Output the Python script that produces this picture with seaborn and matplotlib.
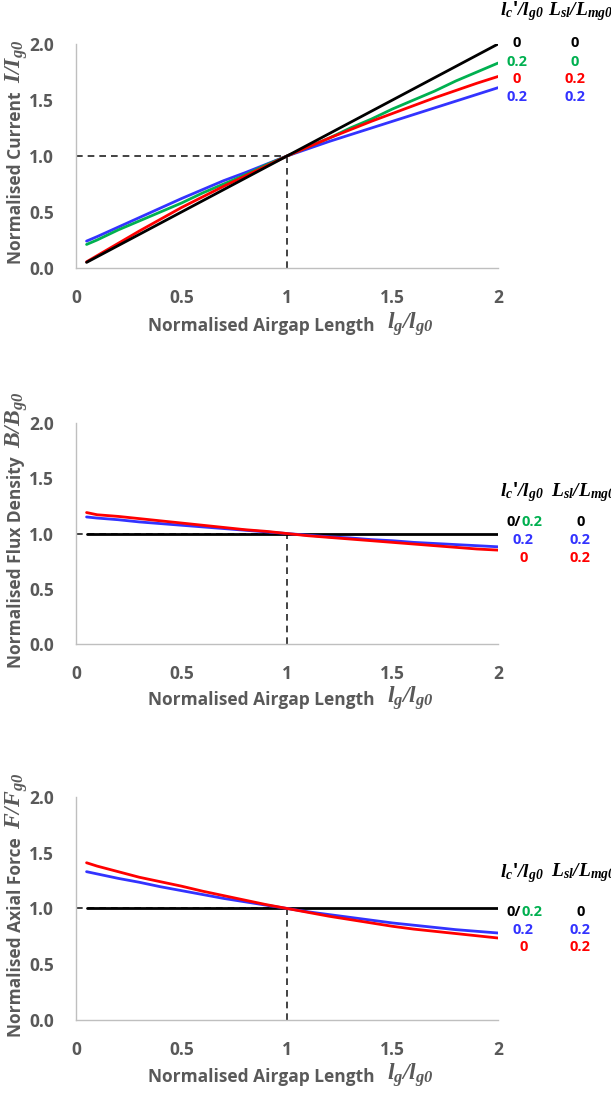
import pandas as pd
import matplotlib.pyplot as plt
import seaborn as sns

# airgap positions (normalised)
lg = [0.05, 0.1, 0.2, 0.3, 0.4, 0.5, 0.6, 0.7, 0.8, 0.9, 1.0,
      1.1, 1.2, 1.3, 1.4, 1.5, 1.6, 1.7, 1.8, 1.9, 2.0]

# normalised current
cur_black = [0.05, 0.1, 0.2, 0.3, 0.4, 0.5, 0.6, 0.7, 0.8, 0.9, 1.0,
             1.1, 1.2, 1.3, 1.4, 1.5, 1.6, 1.7, 1.8, 1.9, 2.0]
cur_green = [0.21, 0.25, 0.34, 0.42, 0.50, 0.58, 0.67, 0.75, 0.83, 0.92, 1.0,
             1.08, 1.16, 1.25, 1.33, 1.42, 1.50, 1.58, 1.67, 1.75, 1.83]
cur_red = [0.055, 0.11, 0.22, 0.33, 0.435, 0.54, 0.635, 0.73, 0.82, 0.91, 1.0,
           1.08, 1.16, 1.235, 1.31, 1.38, 1.45, 1.52, 1.585, 1.65, 1.71]
cur_blue = [0.24, 0.28, 0.365, 0.45, 0.535, 0.62, 0.70, 0.78, 0.85, 0.925, 1.0,
            1.065, 1.13, 1.19, 1.25, 1.31, 1.37, 1.43, 1.49, 1.55, 1.61]

# normalised flux density
flux_black = [1.0] * 21
flux_red = [1.19, 1.17, 1.155, 1.135, 1.115, 1.095, 1.075, 1.055, 1.035, 1.02, 1.0,
            0.98, 0.965, 0.95, 0.935, 0.92, 0.905, 0.89, 0.875, 0.86, 0.85]
flux_blue = [1.15, 1.14, 1.125, 1.105, 1.09, 1.075, 1.06, 1.045, 1.03, 1.015, 1.0,
             0.985, 0.97, 0.96, 0.945, 0.935, 0.92, 0.91, 0.9, 0.89, 0.88]

# normalised axial force
force_black = [1.0] * 21
force_red = [1.41, 1.38, 1.33, 1.28, 1.24, 1.20, 1.155, 1.115, 1.075, 1.035, 1.0,
             0.965, 0.93, 0.9, 0.87, 0.84, 0.815, 0.795, 0.775, 0.755, 0.735]
force_blue = [1.33, 1.31, 1.27, 1.235, 1.195, 1.16, 1.125, 1.09, 1.06, 1.03, 1.0,
              0.97, 0.945, 0.92, 0.895, 0.87, 0.85, 0.83, 0.81, 0.795, 0.78]

GRAY = "#595959"
COLS = {"black": "#000000", "green": "#00B050", "red": "#FF0000", "blue": "#3333FF"}

sns.set_style("white")
plt.rcParams["font.family"] = ["Open Sans", "DejaVu Sans"]
plt.rcParams["mathtext.fontset"] = "custom"
plt.rcParams["mathtext.rm"] = "Liberation Serif:bold:italic"
plt.rcParams["mathtext.it"] = "Liberation Serif:bold:italic"
plt.rcParams["mathtext.bf"] = "Liberation Serif:bold:italic"

W, H = 611, 1106
fig = plt.figure(figsize=(W / 100, H / 100), dpi=100)
boxes = [
    [0.1244, 0.7577, 0.6907, 0.2025],
    [0.1244, 0.4177, 0.6907, 0.1998],
    [0.1244, 0.0778, 0.6907, 0.2016],
]

panels = [
    ("Normalised Current", r"$I/I_{g0}$",
     [("blue", cur_blue), ("green", cur_green), ("red", cur_red), ("black", cur_black)]),
    ("Normalised Flux Density", r"$B/B_{g0}$",
     [("black", flux_black), ("blue", flux_blue), ("red", flux_red)]),
    ("Normalised Axial Force", r"$F/F_{g0}$",
     [("black", force_black), ("blue", force_blue), ("red", force_red)]),
]
xlabel_y = [326, 700, 1077]

axes = []
for box, (ylab, ymath, series) in zip(boxes, panels):
    ax = fig.add_axes(box)
    axes.append(ax)
    # reference dashed guides
    ax.plot([0, 1], [1, 1], ls=(0, (4, 3)), color="#222222", lw=1.2)
    ax.plot([1, 1], [0, 1], ls=(0, (4, 3)), color="#222222", lw=1.2)
    rows = []
    for name, vals in series:
        for x, y in zip(lg, vals):
            rows.append({"lg": x, "val": y, "curve": name})
    df = pd.DataFrame(rows)
    sns.lineplot(data=df, x="lg", y="val", hue="curve",
                 hue_order=[s[0] for s in series],
                 palette=COLS, linewidth=2.0, legend=False, ax=ax,
                 estimator=None, sort=False)
    ax.set_xlim(0, 2)
    ax.set_ylim(0, 2)
    ax.set_xticks([0, 0.5, 1, 1.5, 2])
    ax.set_xticklabels(["0", "0.5", "1", "1.5", "2"])
    ax.set_yticks([0, 0.5, 1, 1.5, 2])
    ax.set_yticklabels(["0.0", "0.5", "1.0", "1.5", "2.0"])
    ax.tick_params(axis="x", length=0, labelsize=12.5, labelcolor=GRAY, pad=15)
    ax.tick_params(axis="y", length=0, labelsize=12.5, labelcolor=GRAY, pad=16)
    for lab in ax.get_xticklabels() + ax.get_yticklabels():
        lab.set_fontweight("bold")
    ax.set_xlabel("")
    ax.set_ylabel("")
    for side in ["top", "right"]:
        ax.spines[side].set_visible(False)
    for side in ["left", "bottom"]:
        ax.spines[side].set_color("#BFBFBF")
        ax.spines[side].set_linewidth(1.0)

# axis labels: sans text followed by larger serif math part
fig.canvas.draw()
rend = fig.canvas.get_renderer()
for ax, box, (ylab, ymath, _), xy in zip(axes, boxes, panels, xlabel_y):
    # x label
    t1 = fig.text(148 / W, 1 - xy / H, "Normalised Airgap Length", fontsize=12.5,
                  fontweight="bold", color=GRAY, ha="left", va="center")
    bb = t1.get_window_extent(rend)
    fig.text((bb.x1 + 12) / W, 1 - (xy - 2) / H, r"$l_g/l_{g0}$", fontsize=17,
             color=GRAY, ha="left", va="center")
    # y label, centred on the axes
    cy = (box[1] + box[3] / 2) * H + 4
    s1 = fig.text(16 / W, 0.5, ylab, fontsize=12.5, fontweight="bold", color=GRAY,
                  rotation=90, ha="center", va="center")
    s2 = fig.text(16 / W, 0.5, ymath, fontsize=17, color=GRAY,
                  rotation=90, ha="center", va="center")
    l1 = s1.get_window_extent(rend).height
    l2 = s2.get_window_extent(rend).height
    gap = 8
    total = l1 + gap + l2
    y0 = cy - total / 2
    s1.set_position((16 / W, (y0 + l1 / 2) / H))
    s2.set_position((17 / W, (y0 + l1 + gap + l2 / 2) / H))

kw = dict(fontsize=10.5, fontweight="bold", ha="center", va="center", clip_on=False)
hkw = dict(fontsize=14, va="center", clip_on=False, color="black", fontweight="bold")
H1 = r"$\mathbf{l_c}$" + "'" + r"$\mathbf{/l_{g0}}$"
H2 = r"$\mathbf{L_{sl}/L_{mg0}}$"

# panel 1 annotations
ax = axes[0]
ax.text(2.01, 2.29, H1, ha="left", **hkw)
ax.text(2.235, 2.29, H2, ha="left", **hkw)
for y, c, a, b in [(2.01, "black", "0", "0"), (1.84, "green", "0.2", "0"),
                   (1.69, "red", "0", "0.2"), (1.53, "blue", "0.2", "0.2")]:
    ax.text(2.09, y, a, color=COLS[c], **kw)
    ax.text(2.365, y, b, color=COLS[c], **kw)

# panels 2 and 3 annotations
for ax, hy, ys in [(axes[1], 1.375, [1.10, 0.94, 0.78]),
                   (axes[2], 1.32, [0.97, 0.81, 0.655])]:
    ax.text(2.01, hy, H1, ha="left", **hkw)
    ax.text(2.25, hy, H2, ha="left", **hkw)
    ax.text(2.109, ys[0], "0/", color="black", fontsize=10.5, fontweight="bold",
            ha="right", va="center", clip_on=False)
    ax.text(2.109, ys[0], "0.2", color=COLS["green"], fontsize=10.5, fontweight="bold",
            ha="left", va="center", clip_on=False)
    ax.text(2.39, ys[0], "0", color="black", **kw)
    ax.text(2.12, ys[1], "0.2", color=COLS["blue"], **kw)
    ax.text(2.39, ys[1], "0.2", color=COLS["blue"], **kw)
    ax.text(2.12, ys[2], "0", color=COLS["red"], **kw)
    ax.text(2.39, ys[2], "0.2", color=COLS["red"], **kw)

plt.savefig("out.png", dpi=100)
